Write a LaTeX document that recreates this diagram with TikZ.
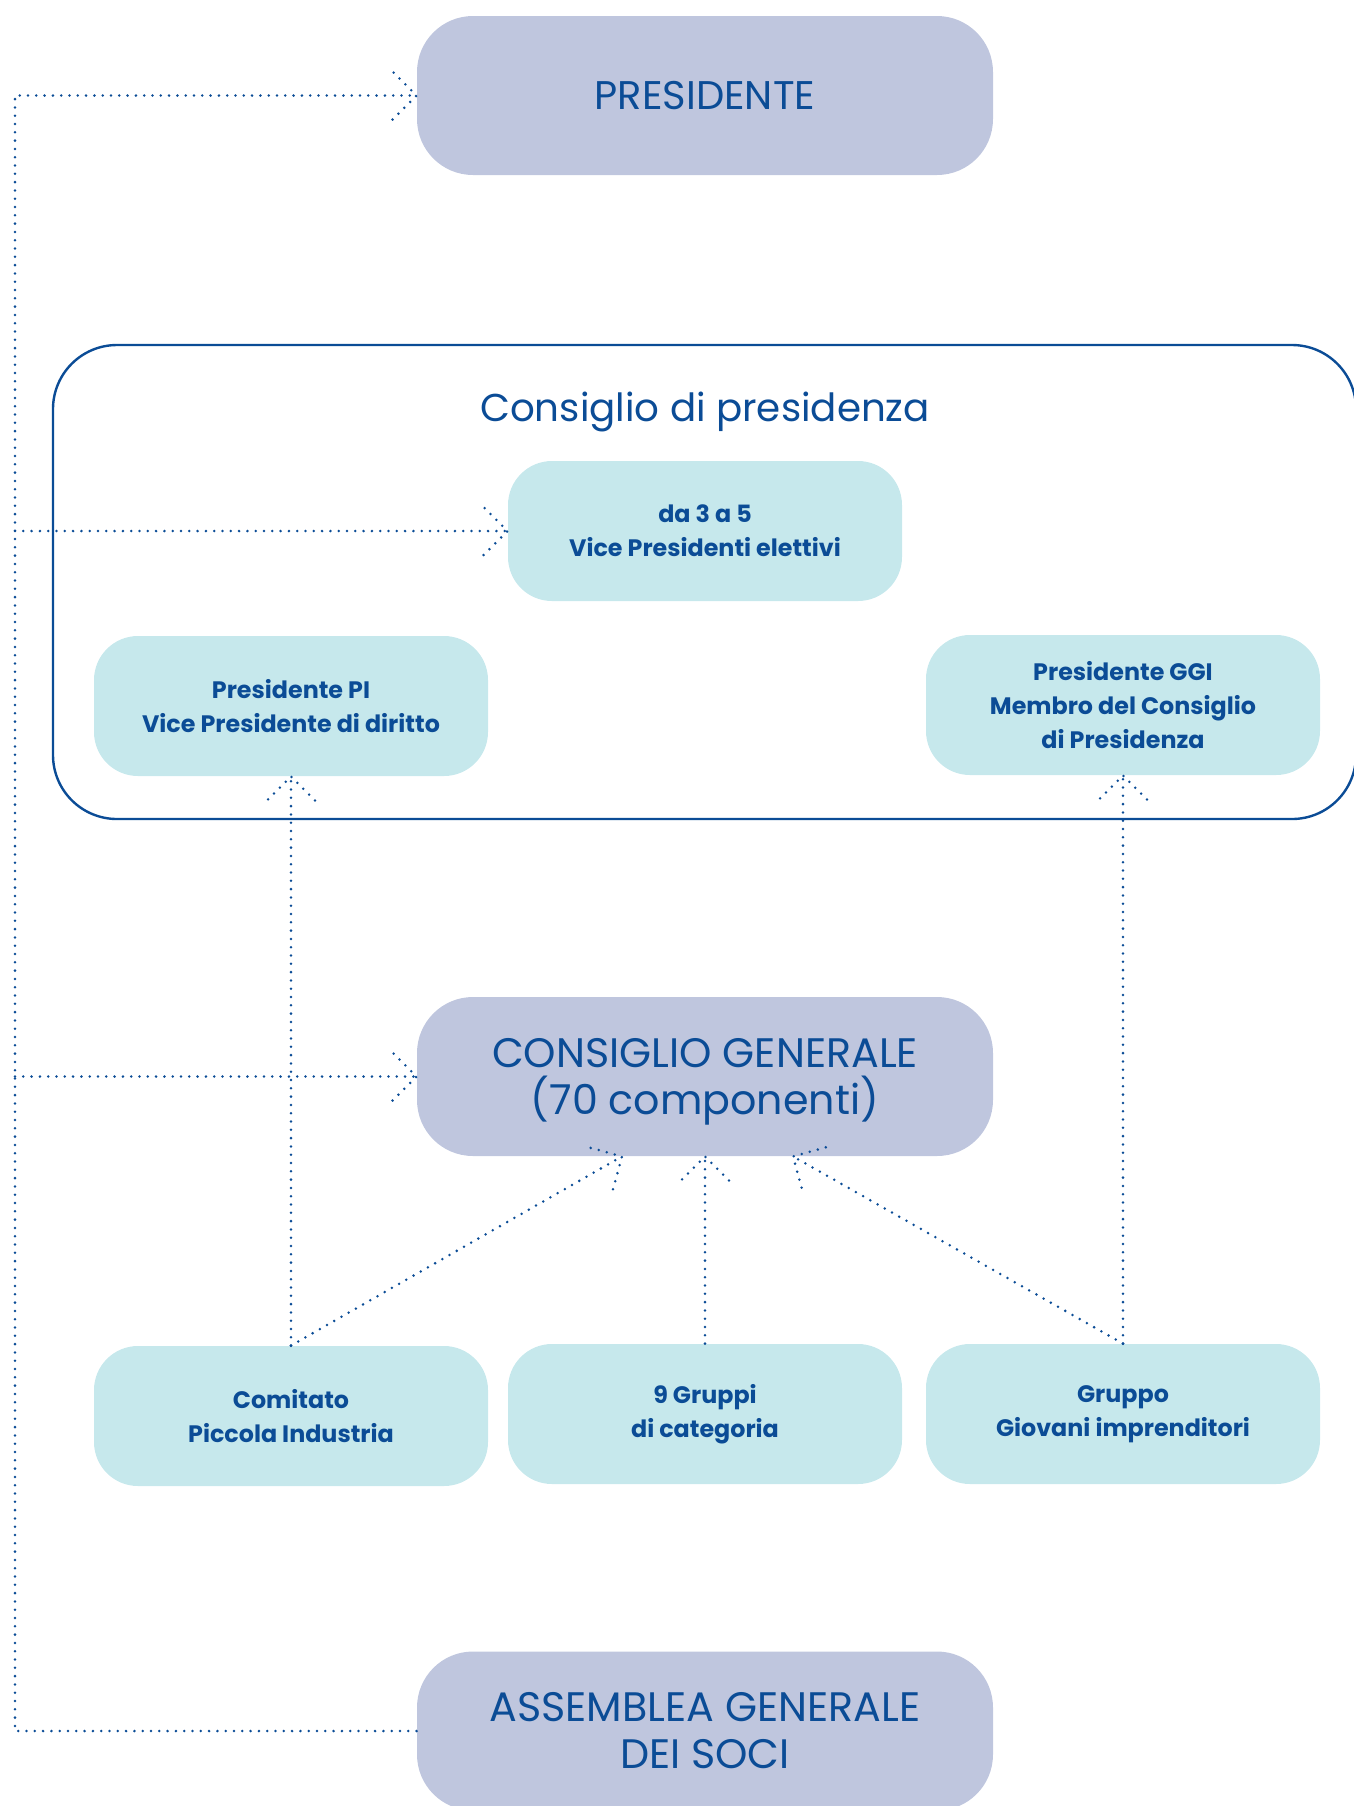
\documentclass[tikz,border=0pt]{standalone}
\usepackage{fontspec}
\setmainfont{Poppins}
\usetikzlibrary{calc}
\definecolor{dblue}{RGB}{11,76,150}
\definecolor{lav}{RGB}{191,198,222}
\definecolor{cyanb}{RGB}{198,232,236}
\tikzset{
 bigbox/.style={rectangle, rounded corners=28pt, fill=lav, minimum width=288pt, minimum height=79.5pt, text=dblue, align=center, font=\fontsize{20.6}{23.5}\selectfont, inner sep=0pt},
 twoline/.style={text height=37.5pt, text depth=0pt},
 smallbox/.style={rectangle, rounded corners=22pt, fill=cyanb, minimum width=197pt, minimum height=70pt, text=dblue, align=center, font=\fontsize{11.9}{17}\selectfont\bfseries, inner sep=0pt},
 dotl/.style={draw=dblue, line width=1.4pt, line cap=round, dash pattern=on 0pt off 4.15pt},
 framebox/.style={draw=dblue, line width=1.2pt, rounded corners=32pt, rectangle, inner sep=0pt},
 titletext/.style={text=dblue, font=\fontsize{19.4}{23}\selectfont, inner sep=0pt},
}
\newcommand\dothead[2]{\draw[dotl] ($#2!17pt!45:#1$) -- #2 -- ($#2!17pt!-45:#1$);}
\newcommand\dotarr[2]{\draw[dotl] #1 -- #2; \dothead{#1}{#2}}
\begin{document}
\begin{tikzpicture}[x=0.5pt, y=-0.5pt]
\useasboundingbox (0,0) rectangle (1354,1806);
% frame
\node[framebox, minimum width=651.5pt, minimum height=237pt] (cdp) at (704.5,582) {};
\node[titletext] (cdpt) at (705,412) {Consiglio di presidenza};
% nodes
\node[bigbox, font=\fontsize{20}{24}\selectfont] (pres) at (705,95.5) {PRESIDENTE};
\node[smallbox] (vpe) at (705,531) {da 3 a 5\\Vice Presidenti elettivi};
\node[smallbox] (ppi) at (291,706) {Presidente PI\\Vice Presidente di diritto};
\node[smallbox] (ggi) at (1123,705) {Presidente GGI\\Membro del Consiglio\\di Presidenza};
\node[bigbox, twoline] (cg) at (705,1076.5) {CONSIGLIO GENERALE\\(70 componenti)};
\node[smallbox] (cpi) at (291,1416) {Comitato\\Piccola Industria};
\node[smallbox] (gc) at (705,1414) {9 Gruppi\\di categoria};
\node[smallbox] (ggr) at (1123,1414) {Gruppo\\Giovani imprenditori};
\node[bigbox, twoline] (ass) at (705,1731) {ASSEMBLEA GENERALE\\DEI SOCI};
% connectors
\coordinate (cgl) at ($(cg.south)+(-83,0)$);
\coordinate (cgr) at ($(cg.south)+(88,0)$);
\dotarr{(cpi.north)}{(ppi.south)}
\dotarr{(ggr.north)}{(ggi.south)}
\dotarr{(gc.north)}{(cg.south)}
\dotarr{(cpi.north)}{(cgl)}
\dotarr{(ggr.north)}{(cgr)}
% left line
\coordinate (lx) at (15,0);
\coordinate (l1) at (pres.west -| lx);
\coordinate (l2) at (vpe.west -| lx);
\coordinate (l3) at (cg.west -| lx);
\coordinate (l4) at (ass.west -| lx);
\draw[dotl] (ass.west) -- (l4) -- (l1) -- (pres.west);
\dothead{(l1)}{(pres.west)}
\dotarr{(l2)}{(vpe.west)}
\dotarr{(l3)}{(cg.west)}
\end{tikzpicture}
\end{document}
